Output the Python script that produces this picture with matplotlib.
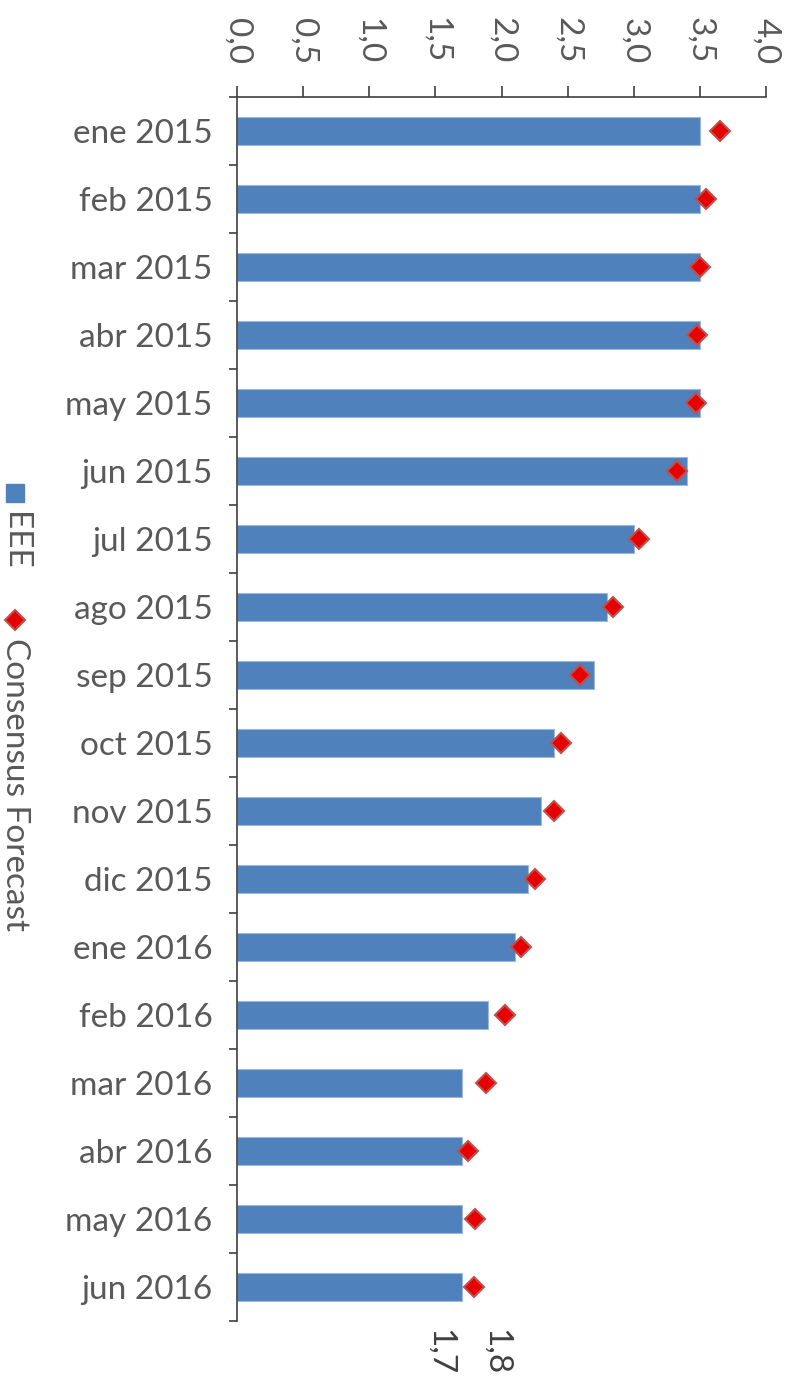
import matplotlib.pyplot as plt
from matplotlib.lines import Line2D

plt.rcParams['font.family'] = ['Lato', 'DejaVu Sans']

# datos
meses = ['ene 2015', 'feb 2015', 'mar 2015', 'abr 2015', 'may 2015', 'jun 2015',
         'jul 2015', 'ago 2015', 'sep 2015', 'oct 2015', 'nov 2015', 'dic 2015',
         'ene 2016', 'feb 2016', 'mar 2016', 'abr 2016', 'may 2016', 'jun 2016']
eee = [3.5, 3.5, 3.5, 3.5, 3.5, 3.4, 3.0, 2.8, 2.7, 2.4, 2.3, 2.2,
       2.1, 1.9, 1.7, 1.7, 1.7, 1.7]
consensus = [3.65, 3.55, 3.5, 3.48, 3.47, 3.33, 3.04, 2.84, 2.59, 2.45, 2.4, 2.25,
             2.15, 2.03, 1.88, 1.75, 1.8, 1.79]
x_ticks = [0.0, 0.5, 1.0, 1.5, 2.0, 2.5, 3.0, 3.5, 4.0]

azul = '#4F81BD'
rojo = '#E60000'
borde_rojo = '#C0504D'
gris = '#595959'
eje = '#404040'
fs = 24

W, H = 791, 1380
fig = plt.figure(figsize=(W / 100, H / 100), dpi=100)
ax = fig.add_axes([237 / W, 1 - 1321 / H, (766 - 237) / W, (1321 - 97) / H])

pos = list(range(len(meses)))
ax.barh(pos, eee, height=0.4, color=azul, edgecolor='#9DB8DA', linewidth=0.8, zorder=2)
ax.plot(consensus, pos, linestyle='none', marker='D', markersize=10,
        markerfacecolor=rojo, markeredgecolor=borde_rojo, markeredgewidth=1.5, zorder=3)

ax.set_xlim(0, 4)
ax.set_ylim(len(meses) - 0.5, -0.5)

# eje x arriba con etiquetas giradas
ax.xaxis.tick_top()
ax.set_xticks(x_ticks)
ax.set_xticklabels(['{:.1f}'.format(v).replace('.', ',') for v in x_ticks],
                   rotation=-90, fontsize=fs, color=gris)
ax.tick_params(axis='x', which='major', length=8, width=1.2, color=eje, pad=16)

# eje y: etiquetas en los centros, marcas en los bordes
ax.set_yticks(pos)
ax.set_yticklabels(meses, fontsize=fs, color=gris)
ax.set_yticks([p - 0.5 for p in pos] + [len(meses) - 0.5], minor=True)
ax.tick_params(axis='y', which='major', length=0, pad=17.5)
ax.tick_params(axis='y', which='minor', length=6, width=1.2, color=eje)

for s in ['right', 'bottom']:
    ax.spines[s].set_visible(False)
for s in ['top', 'left']:
    ax.spines[s].set_color(eje)
    ax.spines[s].set_linewidth(1.2)

# etiquetas de la última fila
ultimo = len(meses) - 1
ax.annotate('{:.1f}'.format(eee[ultimo]).replace('.', ','), xy=(eee[ultimo], ultimo),
            xytext=(-22, -42), textcoords='offset pixels', rotation=-90,
            ha='center', va='top', fontsize=fs, color=eje, annotation_clip=False)
ax.annotate('{:.1f}'.format(consensus[ultimo]).replace('.', ','), xy=(consensus[ultimo], ultimo),
            xytext=(22, -42), textcoords='offset pixels', rotation=-90,
            ha='center', va='top', fontsize=fs, color=eje, annotation_clip=False)

# leyenda girada a la izquierda
fig.add_artist(Line2D([15 / W], [1 - 493 / H], transform=fig.transFigure, marker='s',
                      markersize=13, color=azul, linestyle='none'))
fig.text(15 / W, 1 - 512 / H, 'EEE', rotation=-90, ha='center', va='top',
         fontsize=fs, color=gris)
fig.add_artist(Line2D([15 / W], [1 - 620 / H], transform=fig.transFigure, marker='D',
                      markersize=10, markerfacecolor=rojo, markeredgecolor=borde_rojo,
                      markeredgewidth=1.5, linestyle='none'))
fig.text(15 / W, 1 - 638 / H, 'Consensus Forecast', rotation=-90, ha='center', va='top',
         fontsize=fs, color=gris)

fig.savefig('out.png', dpi=100)
